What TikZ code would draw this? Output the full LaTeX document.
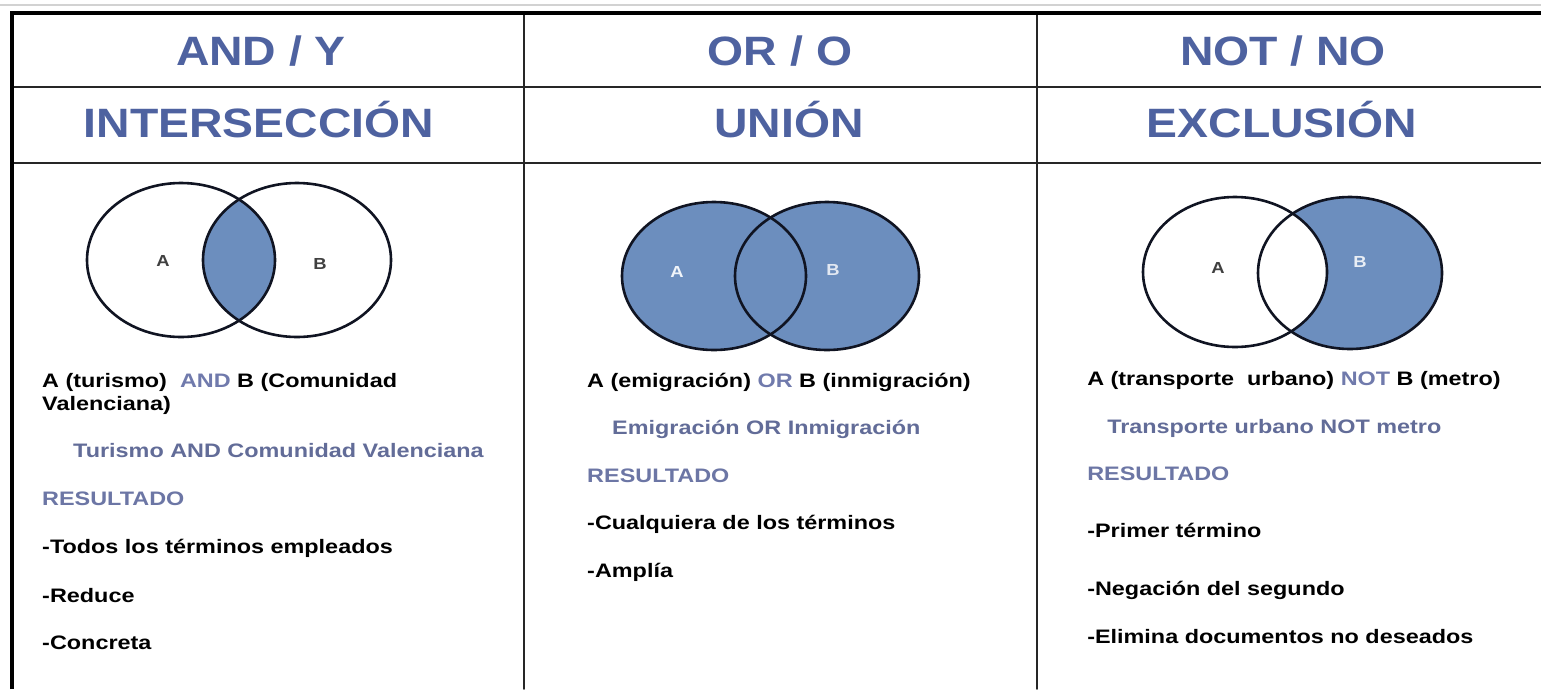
\documentclass[tikz,border=0pt]{standalone}
\usepackage{fontspec}
\setmainfont{Liberation Sans}
\usepackage{xcolor}
\definecolor{hdrblue}{RGB}{78,98,160}
\definecolor{subblue}{RGB}{98,108,152}
\definecolor{resblue}{RGB}{108,118,165}
\definecolor{opblue}{RGB}{112,122,172}
\definecolor{vennfill}{RGB}{108,142,190}
\definecolor{vennline}{RGB}{16,20,34}

\begin{document}
\begin{tikzpicture}[x=1pt,y=-1pt,line cap=round,
  hdr/.style={anchor=base,inner sep=0,text=hdrblue,xscale=1.13,
    font=\bfseries\fontsize{41}{44}\selectfont},
  txt/.style={anchor=base west,inner sep=0,align=left,xscale=1.2,
    font=\bfseries\fontsize{19.5}{23}\selectfont},
  sub/.style={txt,text=subblue},
  res/.style={txt,text=resblue},
  venn/.style={draw=vennline,line width=2.6pt},
  lbl/.style={inner sep=0,xscale=1.15,font=\bfseries\fontsize{16}{18}\selectfont}]
\useasboundingbox (0,0) rectangle (1541,689);
\fill[white] (0,0) rectangle (1541,689);
% table
\draw[gray!35,line width=1.5pt] (0,5) -- (1541,5);
\draw[gray!30!black,line width=1.6pt] (12,87) -- (1541,87);
\draw[gray!30!black,line width=1.6pt] (12,163) -- (1541,163);
\draw[gray!30!black,line width=1.8pt] (524,13) -- (524,689);
\draw[gray!30!black,line width=1.8pt] (1037,13) -- (1037,689);
\draw[line width=3.2pt,line cap=butt] (12,689) -- (12,13) -- (1541,13);
% headers
\node[hdr] (andh) at (261,65) {AND / Y};
\node[hdr] (andt) at (259,137) {INTERSECCIÓN};
\node[hdr] (orh) at (780,65) {OR / O};
\node[hdr] (ort) at (789,137) {UNIÓN};
\node[hdr] (noth) at (1283,65) {NOT / NO};
\node[hdr] (nott) at (1282,137) {EXCLUSIÓN};
% AND
\begin{scope}
\clip (181,260) ellipse [x radius=94pt,y radius=77pt];
\fill[vennfill] (297,260) ellipse [x radius=94pt,y radius=77pt];
\end{scope}
\draw[venn] (181,260) ellipse [x radius=94pt,y radius=77pt];
\draw[venn] (297,260) ellipse [x radius=94pt,y radius=77pt];
\node[lbl,text=black!75] (anda) at (163,261) {A};
\node[lbl,text=black!75] (andb) at (320,264) {B};
% OR
\fill[vennfill] (714,276) ellipse [x radius=92pt,y radius=74pt];
\fill[vennfill] (827,276) ellipse [x radius=92pt,y radius=74pt];
\draw[venn] (714,276) ellipse [x radius=92pt,y radius=74pt];
\draw[venn] (827,276) ellipse [x radius=92pt,y radius=74pt];
\node[lbl,text=white!90!vennfill] (ora) at (677,272) {A};
\node[lbl,text=white!80!vennfill] (orb) at (833,270) {B};
% NOT
\fill[vennfill] (1350,273) ellipse [x radius=92pt,y radius=76pt];
\fill[white] (1235,272) ellipse [x radius=92pt,y radius=75pt];
\draw[venn] (1235,272) ellipse [x radius=92pt,y radius=75pt];
\draw[venn] (1350,273) ellipse [x radius=92pt,y radius=76pt];
\node[lbl,text=black!75] (nota) at (1218,268) {A};
\node[lbl,text=white!85!vennfill] (notb) at (1360,262) {B};
% texts
\node[txt] (andq) at (42,410) {A (turismo)\ \ \textcolor{opblue}{AND} B (Comunidad\\Valenciana)};
\node[sub] (ands) at (73,457) {Turismo AND Comunidad Valenciana};
\node[res] (andr) at (42,505) {RESULTADO};
\node[txt] (and1) at (42,553) {-Todos los términos empleados};
\node[txt] (and2) at (42,602) {-Reduce};
\node[txt] (and3) at (42,649) {-Concreta};
\node[txt] (orq) at (587,387) {A (emigración)\ \textcolor{opblue}{OR} B (inmigración)};
\node[sub] (ors) at (612,434) {Emigración OR Inmigración};
\node[res] (orr) at (587,482) {RESULTADO};
\node[txt] (or1) at (587,529) {-Cualquiera de los términos};
\node[txt] (or2) at (587,577) {-Amplía};
\node[txt] (notq) at (1087,385) {A (transporte\ \ urbano)\ \textcolor{opblue}{NOT} B (metro)};
\node[sub] (nots) at (1107,433) {Transporte urbano NOT metro};
\node[res] (notr) at (1087,480) {RESULTADO};
\node[txt] (not1) at (1087,537) {-Primer término};
\node[txt] (not2) at (1087,595) {-Negación del segundo};
\node[txt] (not3) at (1087,643) {-Elimina documentos no deseados};
\end{tikzpicture}
\end{document}
